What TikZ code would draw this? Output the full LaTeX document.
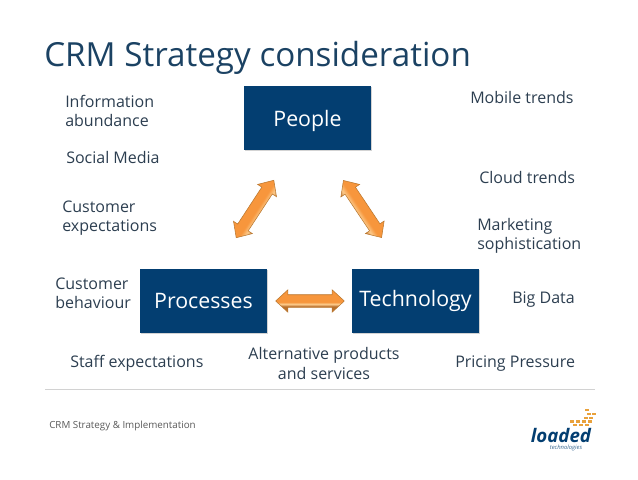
\documentclass[tikz,border=0pt]{standalone}
\usepackage{fontspec}
\setmainfont{Open Sans}
\usetikzlibrary{shapes.arrows,shadows}
\definecolor{navy}{HTML}{033E71}
\definecolor{titleblue}{HTML}{1B4263}
\definecolor{inktext}{HTML}{2C3E50}
\definecolor{rulegrey}{HTML}{D2D2D2}
\definecolor{arrowedge}{HTML}{B9772F}
\definecolor{dotorange}{HTML}{E9A13B}
\definecolor{arrowmain}{HTML}{F7963C}
\definecolor{arrowlight}{HTML}{FCCB8C}
\pgfdeclareverticalshading{arrowband}{100bp}{color(0bp)=(arrowedge); color(38bp)=(arrowmain!75!black); color(43bp)=(arrowlight); color(48bp)=(arrowmain); color(100bp)=(arrowmain)}
\tikzset{
  areabox/.style={fill=navy,text=white,minimum width=95.25pt,minimum height=48pt,inner sep=0pt,font=\fontsize{16}{20}\selectfont,drop shadow={shadow xshift=0.4pt,shadow yshift=-0.8pt,opacity=.35}},
  trend/.style={anchor=west,align=left,text=inktext,inner sep=0pt,font=\fontsize{12}{14.6}\selectfont},
  linkarrow/.style={double arrow,draw=arrowedge,line width=0.4pt,shading=arrowband,minimum height=51.5pt,inner xsep=0pt,inner ysep=4.5pt,double arrow head extend=3.75pt,double arrow tip angle=85},
  dot/.style={fill=dotorange,minimum width=3.4pt,minimum height=2.2pt,inner sep=0pt}
}
\begin{document}
\begin{tikzpicture}[x=0.75pt,y=-0.75pt]
\useasboundingbox (0,0) rectangle (638,479);
\node[anchor=west,inner sep=0pt,text=titleblue,font=\fontsize{24.9}{30}\selectfont] (title) at (44,58) {CRM Strategy consideration};
\node[areabox,text depth=-2pt] (people) at (307.5,118) {People};
\node[areabox] (processes) at (203.5,300.5) {Processes};
\node[areabox] (technology) at (415.5,300.5) {Technology};
\node[linkarrow,rotate=56.8,shading angle=56.8] (peoplelink) at (255,209) {};
\node[linkarrow,rotate=-56.2,shading angle=-56.2] (techlink) at (362.5,209) {};
\node[linkarrow] (processlink) at (310,301) {};
\node[trend] (info) at (65,111) {Information\\abundance};
\node[trend] (social) at (66,157) {Social Media};
\node[trend] (expect) at (62,218) {Customer\\expectations};
\node[trend] (behaviour) at (55,293.5) {Customer\\behaviour};
\node[trend] (staff) at (70,363) {Staff expectations};
\node[trend,anchor=center,align=center] (alternative) at (324,363.5) {Alternative products\\and services};
\node[trend] (pricing) at (455,364) {Pricing Pressure};
\node[trend] (bigdata) at (512,300) {Big Data};
\node[trend] (marketing) at (477,236) {Marketing\\sophistication};
\node[trend] (cloud) at (479,177) {Cloud trends};
\node[trend] (mobile) at (470,97) {Mobile trends};
\draw[rulegrey,line width=0.5pt] (45,389) -- (595,389);
\node[anchor=west,inner sep=0pt,text=black!65,font=\fontsize{7.35}{10}\selectfont] (footer) at (49,426) {CRM Strategy \& Implementation};
% logo
\foreach \dx/\dy in {575/425,581/425,587/425,572/421.5,578/421.5,584/421.5,590/421.5,586/418,591/418,589/414,594/414,587/410}
  \node[dot] at (\dx+0,\dy+0) {};
\node[inner sep=0pt,text=navy,font=\fontsize{14}{18}\selectfont\bfseries\itshape] (logo) at (561,435) {loaded};
\node[inner sep=0pt,text=navy!80!white,font=\fontsize{4.4}{5}\selectfont\itshape,text height=3pt,text depth=0.5pt] (logosub) at (566,447.5) {technologies};
\end{tikzpicture}
\end{document}
